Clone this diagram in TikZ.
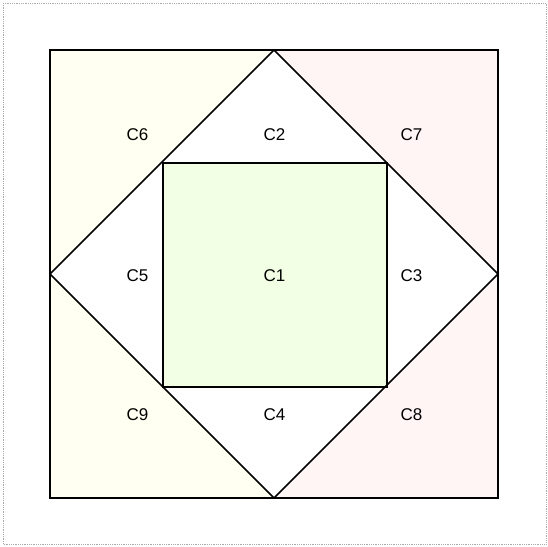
\documentclass[tikz,border=0pt]{standalone}
\usepackage{fontspec}
\setmainfont{Liberation Sans}
\definecolor{leftfill}{RGB}{255,255,242}
\definecolor{rightfill}{RGB}{255,245,244}
\definecolor{centerfill}{RGB}{242,255,228}
\definecolor{framegray}{RGB}{170,170,170}
\tikzset{
  edge/.style={draw=black, line width=1.6pt, line join=miter},
  lbl/.style={font=\fontsize{17}{20}\selectfont, inner sep=0pt}
}
\begin{document}
\begin{tikzpicture}[x=1pt,y=-1pt]
\useasboundingbox (0,0) rectangle (548,546);
\draw[framegray, densely dotted, line width=0.8pt] (3,3) rectangle (546,544);
% halves
\fill[leftfill] (50,50) rectangle (274,498);
\fill[rightfill] (274,50) rectangle (498,498);
% diamond interior
\fill[white] (274,50) -- (498,274) -- (274,498) -- (50,274) -- cycle;
% inner square
\fill[centerfill] (163,163) rectangle (387,387);
% lines
\draw[edge] (50,50) rectangle (498,498);
\draw[edge] (274,50) -- (498,274) -- (274,498) -- (50,274) -- cycle;
\draw[edge] (163,163) rectangle (387,387);
% labels
\node[lbl] (c6) at (137.5,135) {C6};
\node[lbl] (c2) at (274.5,135) {C2};
\node[lbl] (c7) at (411.5,135) {C7};
\node[lbl] (c5) at (137.5,275.5) {C5};
\node[lbl] (c1) at (274.5,275.5) {C1};
\node[lbl] (c3) at (411.5,275.5) {C3};
\node[lbl] (c9) at (137.5,415) {C9};
\node[lbl] (c4) at (274.5,415) {C4};
\node[lbl] (c8) at (411.5,415) {C8};
\end{tikzpicture}
\end{document}
